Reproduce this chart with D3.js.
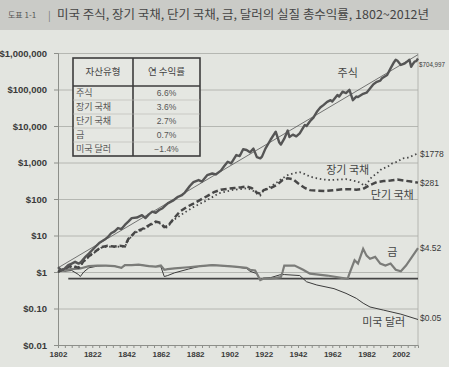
<!DOCTYPE html>
<html>
<head>
<meta charset="utf-8">
<script src="https://cdn.jsdelivr.net/npm/d3@7"></script>
<style>
body { margin: 0; background: #e3e5e0; }
svg { display: block; }
</style>
</head>
<body>
<div id="chart"></div>
<script>
const stocks = [
  [1802,1.35],[1804,1.1],[1806,1.25],[1808,1.55],[1810,1.7],[1812,1.9],[1814,1.7],[1815,1.8],
  [1818,2.6],[1820,3.2],[1822,4],[1824,5],[1826,6.2],[1829,7.6],[1831,9],[1833,11.5],[1835,13],
  [1837,16],[1839,15],[1841,19.5],[1843,24],[1845,30],[1848,31],[1851,36],[1853,30],[1855,38],
  [1857,45],[1859,42],[1861,50],[1863,56],[1866,76],[1869,90],[1872,115],[1874,125],[1876,150],
  [1879,230],[1881,290],[1884,330],[1886,300],[1889,450],[1892,500],[1894,470],[1897,600],
  [1899,800],[1901,1050],[1903,950],[1906,1600],[1908,1500],[1910,2300],[1912,2200],[1914,1900],
  [1916,2400],[1918,1400],[1920,1300],[1921,1450],[1923,2400],[1926,4200],[1929,7000],[1931,3600],
  [1932,3100],[1934,4500],[1936,7500],[1937,5000],[1939,5800],[1941,5200],[1943,6300],[1946,10700],
  [1947,10000],[1949,13500],[1951,17000],[1953,24500],[1955,32000],[1957,38000],[1959,46000],
  [1961,51000],[1962,47000],[1965,71000],[1966,64000],[1968,87000],[1970,80000],[1972,98000],
  [1974,51000],[1976,64000],[1977,62000],[1980,76000],[1982,82000],[1984,107000],[1986,140000],
  [1988,162000],[1990,175000],[1991,204000],[1994,250000],[1996,380000],[1998,560000],[1999,650000],
  [2000,610000],[2002,470000],[2004,510000],[2006,600000],[2007,650000],[2008,420000],[2009,500000],
  [2010,580000],[2011,600000],[2012,704997]
];
const bonds = [
  [1802,1],[1806,1.2],[1810,1.4],[1814,1.3],[1817,1.9],[1820,2.6],[1824,3.6],[1827,4.6],[1831,5],
  [1835,4.8],[1838,5],[1841,4.9],[1843,7.5],[1847,12],[1851,14],[1855,18],[1859,23],[1862,21],
  [1864,16],[1866,17],[1869,26],[1872,32],[1875,40],[1881,60],[1885,75],[1889,93],[1893,120],
  [1896,145],[1900,160],[1904,178],[1908,185],[1912,195],[1915,180],[1918,140],[1920,125],
  [1922,175],[1926,220],[1929,270],[1933,370],[1936,450],[1940,520],[1943,540],[1946,480],
  [1949,410],[1953,370],[1957,340],[1961,330],[1965,340],[1970,350],[1974,320],[1977,300],
  [1981,230],[1983,300],[1985,400],[1988,500],[1991,680],[1994,750],[1997,950],[2000,1050],
  [2003,1300],[2006,1350],[2009,1550],[2012,1778]
];
const bills = [
  [1802,1],[1806,1.25],[1810,1.5],[1814,1.3],[1817,2],[1820,2.7],[1824,3.7],[1827,4.8],[1831,5.2],
  [1835,5],[1838,5.2],[1841,5],[1843,8],[1847,12.5],[1851,15],[1855,19],[1859,24],[1862,22],
  [1864,17],[1866,18],[1869,27],[1873,45],[1877,60],[1881,75],[1885,95],[1889,120],[1893,155],
  [1897,180],[1901,190],[1905,200],[1909,210],[1912,220],[1915,200],[1918,150],[1920,140],
  [1922,175],[1926,200],[1930,250],[1933,330],[1936,370],[1939,350],[1942,270],[1946,200],
  [1949,175],[1953,170],[1958,165],[1963,175],[1968,185],[1972,185],[1976,180],[1980,190],
  [1984,240],[1988,290],[1992,310],[1996,320],[2000,340],[2004,320],[2008,300],[2012,281]
];
const gold = [
  [1802,1.2],[1805,1.15],[1810,1.2],[1815,1.25],[1820,1.45],[1825,1.5],[1830,1.5],[1835,1.45],
  [1839,1.3],[1841,1.55],[1845,1.55],[1849,1.6],[1855,1.45],[1859,1.4],[1862,1.5],[1864,1.15],
  [1866,1.2],[1870,1.25],[1878,1.35],[1885,1.45],[1892,1.55],[1897,1.5],[1905,1.4],[1912,1.3],
  [1914,1.15],[1917,1.1],[1920,0.6],[1922,0.66],[1926,0.66],[1932,0.72],[1933,1],[1934,1.5],
  [1940,1.5],[1945,1.15],[1949,0.9],[1959,0.8],[1970,0.66],[1971,0.66],[1972,0.9],[1975,2.1],
  [1977,1.7],[1980,4.3],[1982,2.8],[1984,2.3],[1987,2.6],[1990,1.7],[1993,1.5],[1996,1.7],
  [1999,1.15],[2002,1.05],[2005,1.5],[2009,2.8],[2012,4.52]
];
const dollar = [
  [1802,1.1],[1806,1.05],[1810,1.1],[1814,0.85],[1815,0.75],[1817,1],[1820,1.3],[1825,1.45],
  [1830,1.5],[1835,1.45],[1839,1.3],[1841,1.5],[1849,1.6],[1855,1.45],[1859,1.4],[1862,1.4],
  [1864,0.75],[1866,0.8],[1870,0.95],[1878,1.2],[1885,1.45],[1892,1.55],[1897,1.5],[1905,1.4],
  [1912,1.25],[1914,1.05],[1918,0.9],[1920,0.6],[1922,0.68],[1926,0.7],[1932,0.85],[1934,0.85],
  [1943,0.8],[1947,0.54],[1953,0.44],[1963,0.35],[1970,0.26],[1976,0.19],[1980,0.14],[1984,0.11],
  [1992,0.09],[2002,0.07],[2012,0.05]
];
const trend = [[1802,1.3],[2012,900000]];
const baseLine = [[1808,0.66],[2012,0.66]];

const endLabels = ["$704,997","$1778","$281","$4.52","$0.05"];
const seriesNames = ["주식","장기 국채","단기 국채","금","미국 달러"];
const annualReturns = ["6.6%","3.6%","2.7%","0.7%","\u22121.4%"];
const tableHeader = ["자산유형","연 수익률"];

const xTicks = [1802,1822,1842,1862,1882,1902,1922,1942,1962,1982,2002];
const yTicks = [0.01,0.1,1,10,100,1e3,1e4,1e5,1e6];
const yTickLabels = ["$0.01","$0.10","$1","$10","$100","$1,000","$10,000","$100,000","$1,000,000"];

const titleTag = "도표 1-1";
const title = "미국 주식, 장기 국채, 단기 국채, 금, 달러의 실질 총수익률, 1802~2012년";

// ---- drawing ----
const W = 449, H = 367;
const kr = "'Noto Sans CJK KR', sans-serif";
const num = "'Liberation Sans', Arial, sans-serif";

const svg = d3.select("#chart").append("svg").attr("width", W).attr("height", H);
svg.append("rect").attr("width", W).attr("height", H).attr("fill", "#e3e5e0");
svg.append("rect").attr("width", W).attr("height", 30).attr("fill", "#cacbc7");

svg.append("text").attr("x", 8).attr("y", 18).attr("font-family", kr)
  .attr("font-size", 8).attr("fill", "#555").text(titleTag);
svg.append("text").attr("x", 48).attr("y", 19).attr("font-family", kr)
  .attr("font-size", 10).attr("fill", "#777").text("|");
svg.append("text").attr("x", 57).attr("y", 19).attr("font-family", kr)
  .attr("font-size", 12).attr("fill", "#444")
  .attr("textLength", 372).attr("lengthAdjust", "spacingAndGlyphs").text(title);

const x = d3.scaleLinear().domain([1802, 2012]).range([58, 418]);
const y = d3.scaleLog().domain([0.01, 1e6]).range([345, 53]);

// grid
svg.append("g")
  .attr("transform", "translate(58,0)")
  .call(d3.axisLeft(y).tickValues(yTicks).tickSize(-360).tickFormat(""))
  .call(g => g.select(".domain").remove())
  .call(g => g.selectAll("line").attr("stroke", "#a9aba6").attr("stroke-width", 0.8));

// right border
svg.append("line").attr("x1", 418).attr("x2", 418).attr("y1", 53).attr("y2", 345)
  .attr("stroke", "#a9aba6").attr("stroke-width", 0.8);

// y axis
svg.append("g")
  .attr("transform", "translate(58,0)")
  .call(d3.axisLeft(y).tickValues(yTicks).tickSize(4).tickPadding(7)
    .tickFormat((d, i) => yTickLabels[i]))
  .call(g => g.select(".domain").attr("stroke", "#8d8f8a"))
  .call(g => g.selectAll("line").attr("stroke", "#8d8f8a"))
  .call(g => g.selectAll("text").attr("font-family", num).attr("font-weight", "bold")
    .attr("font-size", 9.5).attr("fill", "#3a3a3a"));

// x axis
svg.append("g")
  .attr("transform", "translate(0,345)")
  .call(d3.axisBottom(x).tickValues(d3.range(1802, 2013, 4)).tickSize(3).tickFormat(""))
  .call(g => g.select(".domain").attr("stroke", "#8d8f8a"))
  .call(g => g.selectAll("line").attr("stroke", "#8d8f8a"));
svg.append("g")
  .attr("transform", "translate(0,345)")
  .call(d3.axisBottom(x).tickValues(xTicks).tickSize(0).tickPadding(6).tickFormat(d3.format("d")))
  .call(g => g.select(".domain").remove())
  .call(g => g.selectAll("text").attr("font-family", num).attr("font-weight", "bold")
    .attr("font-size", 8).attr("fill", "#3a3a3a"));

const line = d3.line().x(d => x(d[0])).y(d => y(d[1]));

svg.append("path").datum(baseLine).attr("d", line).attr("fill", "none")
  .attr("stroke", "#444").attr("stroke-width", 1.8);
svg.append("path").datum(dollar).attr("d", line).attr("fill", "none")
  .attr("stroke", "#3c3c3c").attr("stroke-width", 1);
svg.append("path").datum(gold).attr("d", line).attr("fill", "none")
  .attr("stroke", "#7b7c79").attr("stroke-width", 2.2);
svg.append("path").datum(bills).attr("d", line).attr("fill", "none")
  .attr("stroke", "#474747").attr("stroke-width", 2.5).attr("stroke-dasharray", "6,3");
svg.append("path").datum(bonds).attr("d", line).attr("fill", "none")
  .attr("stroke", "#474747").attr("stroke-width", 1.8).attr("stroke-dasharray", "1.5,2.8");
svg.append("path").datum(trend).attr("d", line).attr("fill", "none")
  .attr("stroke", "#555").attr("stroke-width", 0.8);
svg.append("path").datum(stocks).attr("d", line).attr("fill", "none")
  .attr("stroke", "#555").attr("stroke-width", 2.4).attr("stroke-linejoin", "round");

// end-value labels
const ends = [stocks, bonds, bills, gold, dollar];
const endShift = [6, 1, 0, 0, -1];
ends.forEach((s, i) => {
  const last = s[s.length - 1];
  const t = svg.append("text").attr("x", x(2012) + 2).attr("y", y(last[1]) + endShift[i])
    .attr("dy", "0.35em").attr("font-family", num).attr("font-size", 8.5)
    .attr("fill", "#3a3a3a").text(endLabels[i]);
  if (i === 0) t.attr("x", x(2012) + 1).attr("font-size", 7.5)
    .attr("textLength", 26).attr("lengthAdjust", "spacingAndGlyphs");
});

// series names
const nameAt = [[1971, 280000], [1971, 630], [1997, 125], [1997, 3.5], [1992, 0.043]];
seriesNames.forEach((n, i) => {
  svg.append("text").attr("x", x(nameAt[i][0])).attr("y", y(nameAt[i][1]))
    .attr("text-anchor", "middle").attr("dy", "0.35em").attr("font-family", kr)
    .attr("font-size", 11).attr("fill", "#454545").text(n);
});

// summary table
const tx0 = 73, tx1 = 133, tx2 = 200, ty0 = 58, tyH = 86, rowH = 14;
const tbl = svg.append("g");
tbl.append("rect").attr("x", tx0).attr("y", ty0).attr("width", tx2 - tx0)
  .attr("height", tyH - ty0 + rowH * seriesNames.length).attr("fill", "#e5e7e2")
  .attr("stroke", "#3d3d3d").attr("stroke-width", 1.6);
tbl.append("line").attr("x1", tx1).attr("x2", tx1).attr("y1", ty0)
  .attr("y2", tyH + rowH * seriesNames.length).attr("stroke", "#3d3d3d").attr("stroke-width", 1.6);
tbl.append("line").attr("x1", tx0).attr("x2", tx2).attr("y1", tyH).attr("y2", tyH)
  .attr("stroke", "#3d3d3d").attr("stroke-width", 1.6);
tbl.selectAll(".hdr").data(tableHeader).enter().append("text")
  .attr("x", (d, i) => i ? (tx1 + tx2) / 2 : (tx0 + tx1) / 2).attr("y", (ty0 + tyH) / 2)
  .attr("dy", "0.35em").attr("text-anchor", "middle").attr("font-family", kr)
  .attr("font-size", 9.5).attr("fill", "#444").text(d => d);
seriesNames.forEach((n, i) => {
  const yc = tyH + rowH * i + rowH / 2;
  if (i > 0) tbl.append("line").attr("x1", tx0).attr("x2", tx2)
    .attr("y1", tyH + rowH * i).attr("y2", tyH + rowH * i)
    .attr("stroke", "#b5b7b2").attr("stroke-width", 0.6);
  tbl.append("text").attr("x", tx0 + 3).attr("y", yc).attr("dy", "0.35em")
    .attr("font-family", kr).attr("font-size", 9).attr("fill", "#555").text(n);
  tbl.append("text").attr("x", (tx1 + tx2) / 2).attr("y", yc).attr("dy", "0.35em")
    .attr("text-anchor", "middle").attr("font-family", num).attr("font-size", 8.5)
    .attr("fill", "#555").text(annualReturns[i]);
});
</script>
</body>
</html>
